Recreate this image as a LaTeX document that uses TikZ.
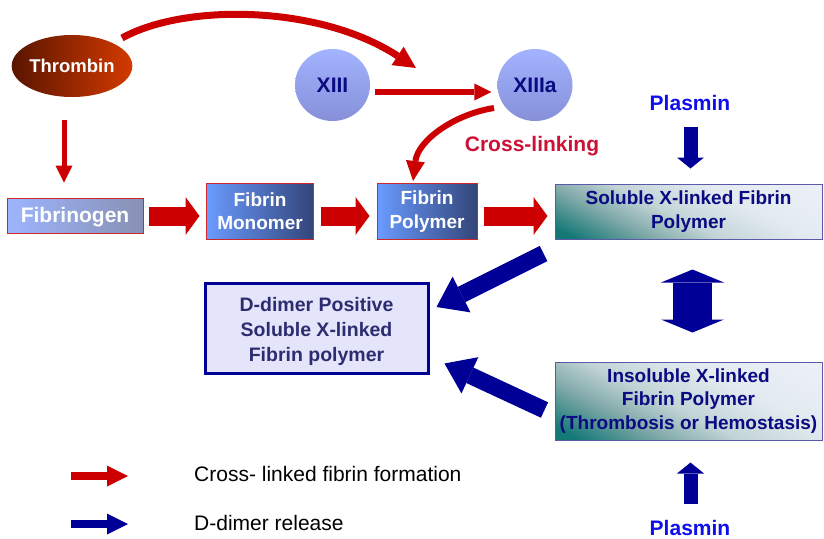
\documentclass[tikz,border=0pt]{standalone}
\usepackage{fontspec}
\setmainfont{Liberation Sans}
\usetikzlibrary{arrows.meta,shapes.geometric,positioning}

\definecolor{flowred}{HTML}{CC0000}
\definecolor{flowblue}{HTML}{000096}
\definecolor{plasmablue}{HTML}{0F0FEE}
\definecolor{labelnavy}{HTML}{0A0A82}
\definecolor{dimernavy}{HTML}{2C2C70}
\definecolor{dimerfill}{HTML}{E4E4FA}
\definecolor{linkred}{HTML}{CC1136}
\definecolor{tealdeep}{HTML}{137876}
\definecolor{tealmid}{HTML}{7FA8A8}
\definecolor{tealpale}{HTML}{C2D4D6}
\definecolor{tealmist}{HTML}{E2EAF0}
\definecolor{tealwhite}{HTML}{F4F6FC}
\definecolor{tealedge}{HTML}{5A5AA8}
\definecolor{fibedge}{HTML}{D02828}
\definecolor{monoleft}{HTML}{6A9BFF}
\definecolor{monoright}{HTML}{33457A}
\definecolor{ogenleft}{HTML}{9DB5FF}
\definecolor{ogenright}{HTML}{8890B4}
\definecolor{thrleft}{HTML}{5A1500}
\definecolor{thrright}{HTML}{D33A00}
\definecolor{factop}{HTML}{A3B3FF}
\definecolor{facbottom}{HTML}{8590D8}

\pgfdeclareverticalshading{xlinkfade}{100bp}{color(0bp)=(tealdeep); color(20bp)=(tealdeep); color(34bp)=(tealmid); color(46bp)=(tealpale); color(62bp)=(tealmist); color(100bp)=(tealwhite)}

\begin{document}
\begin{tikzpicture}[
        x=1pt, y=-1pt,
        every node/.style={align=center, inner sep=0pt},
        enzyme/.style={ellipse, minimum width=113pt, minimum height=62pt, left color=thrleft, right color=thrright, text=white, font=\fontsize{18.5}{22}\selectfont\bfseries},
        factor/.style={ellipse, minimum width=75pt, minimum height=72pt, top color=factop, bottom color=facbottom, text=labelnavy, font=\fontsize{21}{24}\selectfont\bfseries},
        fibrinbox/.style={rectangle, draw=fibedge, line width=1pt, left color=monoleft, right color=monoright, text=white, minimum height=56pt, font=\fontsize{19}{23.3}\selectfont\bfseries},
        xlinkbox/.style={rectangle, draw=tealedge, line width=1pt, shading=xlinkfade, shading angle=-27, text=labelnavy, font=\fontsize{19}{23.3}\selectfont\bfseries},
        dimerbox/.style={rectangle, draw=flowblue, line width=3pt, fill=dimerfill, minimum width=223pt, minimum height=90pt},
        plasmin/.style={text=plasmablue, font=\fontsize{21}{24}\selectfont\bfseries},
        legend/.style={anchor=west, font=\fontsize{21}{24}\selectfont},
        redline/.style={draw=flowred, line width=5pt, -{Triangle[length=17pt,width=17pt,line width=0pt]}},
        redcurve/.style={draw=flowred, line width=6.5pt, -{Triangle[length=22pt,width=22pt,line width=0pt]}},
        redblock/.style={draw=flowred, line width=19pt, -{Triangle[length=14pt,width=38pt,line width=0pt]}},
        blueblock/.style={draw=flowblue, line width=17pt, -{Triangle[length=28pt,width=40pt,line width=0pt]}},
        bluestem/.style={draw=flowblue, line width=14pt, -{Triangle[length=11pt,width=27pt,line width=0pt]}},
        legendarrow/.style={line width=8pt, -{Triangle[length=21pt,width=21pt,line width=0pt]}}
    ]

    \fill[white] (0,0) rectangle (824,538);
    \useasboundingbox (0,0) rectangle (824,538);

    % Nodes
    \node (thrombin)[enzyme] at (72,66) {Thrombin};
    \node (xiii)[factor] at (332.5,85) {XIII};
    \node (xiiia)[factor] at (535,85) {XIIIa};
    \node (crosslink)[text=linkred, font=\fontsize{21}{24}\selectfont\bfseries] at (532,146) {Cross-linking};

    \node (fibrinogen)[fibrinbox, left color=ogenleft, right color=ogenright, minimum width=136pt, minimum height=35pt, text depth=2pt, font=\fontsize{21}{24}\selectfont\bfseries] at (75,215.5) {Fibrinogen};
    \node (monomer)[fibrinbox, minimum width=107pt] at (260,211.5) {Fibrin\\Monomer};
    \node (polymer)[fibrinbox, minimum width=100pt] at (427,211.5) {Fibrin\\Polymer};
    \node (soluble)[xlinkbox, minimum width=267pt, minimum height=55pt] at (688.5,211.5) {Soluble X-linked Fibrin\\Polymer};
    \node (plasmintop)[plasmin] at (690,103) {Plasmin};

    \node (ddimer)[dimerbox] at (316.5,328) {};
    \node (ddimertext)[text=dimernavy, font=\fontsize{19.5}{25}\selectfont\bfseries] at (316.5,331.5) {D-dimer Positive\\Soluble X-linked\\Fibrin polymer};
    \node (insoluble)[xlinkbox, minimum width=267pt, minimum height=78pt] at (688.5,401) {Insoluble X-linked\\Fibrin Polymer\\(Thrombosis or Hemostasis)};
    \node (plasminlow)[plasmin] at (690,527.5) {Plasmin};

    % Legend
    \coordinate (legred) at (71,476);
    \coordinate (legblue) at (71,524);
    \node (legcross)[legend, right=123pt of legred, yshift=2.5pt] {Cross- linked fibrin formation};
    \node (legdimer)[legend, right=123pt of legblue, yshift=1pt] {D-dimer release};

    % Edges
    \draw[redline] ([shift={(-8,23)}]thrombin.south) -- ([shift={(-11,-15)}]fibrinogen.north);
    \draw[redcurve, line width=7pt] ([shift={(50,-28)}]thrombin.center) .. controls (185,3) and (320,5) .. ([shift={(-119,-17)}]xiiia.center);
    \draw[redline, line width=5.5pt] ([shift={(5,7)}]xiii.east) -- ([shift={(-6,7)}]xiiia.west);
    \draw[redcurve, line width=6pt, -{Triangle[length=20pt,width=19pt,line width=0pt]}] ([shift={(-41,23)}]xiiia.center) .. controls (455,114) and (418,140) .. ([shift={(-14,-2)}]polymer.north);

    \draw[redblock] ([shift={(5,0.5)}]fibrinogen.east) -- ([shift={(-6.5,4.5)}]monomer.west);
    \draw[redblock] ([shift={(7,4.5)}]monomer.east) -- ([shift={(-7,4.5)}]polymer.west);
    \draw[redblock] ([shift={(6,4.5)}]polymer.east) -- ([shift={(-7,4.5)}]soluble.west);

    \draw[bluestem] ([shift={(0.5,24)}]plasmintop.center) -- ([shift={(2,-15)}]soluble.north);
    \draw[bluestem] ([shift={(0.5,-23.5)}]plasminlow.center) -- ([shift={(2,22)}]insoluble.south);
    \draw[draw=flowblue, line width=39pt, {Triangle[length=13pt,width=63pt,line width=0pt]}-{Triangle[length=13pt,width=63pt,line width=0pt]}] ([shift={(4,30)}]soluble.south) -- ([shift={(4,-29)}]insoluble.north);

    \draw[blueblock] ([shift={(-11,14)}]soluble.south west) -- ([shift={(7,-21)}]ddimer.east);
    \draw[blueblock] ([shift={(-10,9)}]insoluble.west) -- ([shift={(15,-11)}]ddimer.south east);

    \draw[legendarrow, draw=flowred] (legred) -- ([shift={(-66,2.5)}]legcross.west);
    \draw[legendarrow, draw=flowblue] (legblue) -- ([shift={(-66,1)}]legdimer.west);

\end{tikzpicture}
\end{document}
